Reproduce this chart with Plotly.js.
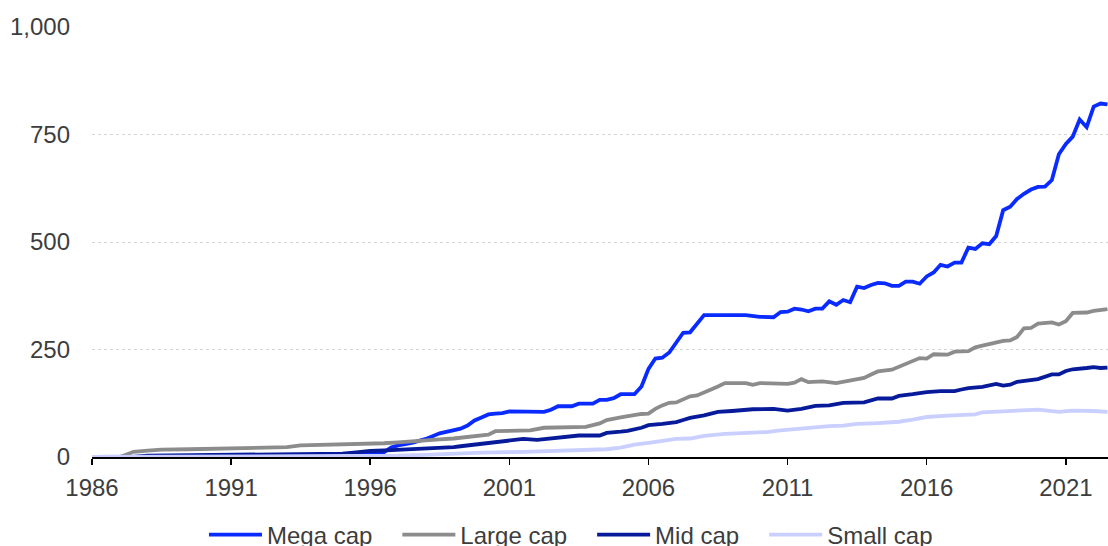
<!DOCTYPE html>
<html>
<head>
<meta charset="utf-8">
<script src="https://cdn.plot.ly/plotly-3.0.1.min.js"></script>
<style>
html,body{margin:0;padding:0;background:#fff;}
#chart{width:1108px;height:546px;}
</style>
</head>
<body>
<div id="chart"></div>
<script>
// ---- Data ----
var seriesNames = ['Mega cap', 'Large cap', 'Mid cap', 'Small cap'];

var megaDates = ['1986-01','1990-01','1993-01','1994-07','1995-07','1996-01','1996-07','1996-10','1997-01','1997-07',
  '1998-01','1998-07','1999-01','1999-04','1999-07','1999-10','2000-01','2000-04','2000-07','2000-10',
  '2001-01','2002-04','2002-07','2002-10','2003-04','2003-07','2004-01','2004-04','2004-07','2004-10',
  '2005-01','2005-07','2005-10','2006-01','2006-04','2006-07','2006-10','2007-01','2007-04','2007-07',
  '2007-10','2008-01','2009-07','2009-10','2010-01','2010-07','2010-10','2011-01','2011-04','2011-07',
  '2011-10','2012-01','2012-04','2012-07','2012-10','2013-01','2013-04','2013-07','2013-10','2014-01',
  '2014-04','2014-07','2014-10','2015-01','2015-04','2015-07','2015-10','2016-01','2016-04','2016-07',
  '2016-10','2017-01','2017-04','2017-07','2017-10','2018-01','2018-04','2018-07','2018-10','2019-01',
  '2019-04','2019-07','2019-10','2020-01','2020-04','2020-07','2020-10','2021-01','2021-04','2021-07',
  '2021-10','2022-01','2022-04','2022-07'];
var megaValues = [0,0,1,2,4,7,11,22,27,33,
  42,55,62,66,73,85,92,99,101,102,
  106,105,110,118,118,124,124,133,133,137,
  146,146,164,205,229,231,243,267,289,290,
  311,330,330,327,326,325,337,338,345,343,
  339,345,345,362,354,365,360,396,393,400,
  405,404,398,398,408,408,403,420,429,447,
  443,452,452,487,484,497,495,514,574,582,
  600,612,622,628,629,644,704,728,745,785,
  767,815,822,820];

var largeDates = ['1986-01','1987-01','1987-04','1987-07','1988-01','1988-07','1989-07','1990-07','1991-07','1992-07',
  '1993-01','1993-07','1994-07','1995-07','1996-01','1996-07','1997-01','1997-07','1998-01','1998-07',
  '1999-01','1999-07','2000-01','2000-04','2000-07','2001-07','2001-10','2002-04','2003-10','2004-04',
  '2004-07','2005-01','2005-04','2005-07','2005-10','2006-01','2006-04','2006-07','2006-10','2007-01',
  '2007-04','2007-07','2007-10','2008-01','2008-04','2008-07','2008-10','2009-07','2009-10','2010-01',
  '2010-07','2010-10','2011-01','2011-04','2011-07','2011-10','2012-04','2012-10','2013-01','2013-07',
  '2013-10','2014-01','2014-04','2014-10','2015-01','2015-04','2015-07','2015-10','2016-01','2016-04',
  '2016-10','2017-01','2017-07','2017-10','2018-01','2018-04','2018-07','2018-10','2019-01','2019-04',
  '2019-07','2019-10','2020-01','2020-07','2020-10','2021-01','2021-04','2021-10','2022-01','2022-07'];
var largeValues = [0,0,6,12,15,17,18,19,20,22,
  23,27,28,30,31,32,34,37,39,41,
  43,46,49,52,60,60,62,68,70,78,
  86,92,95,98,100,101,112,120,126,127,
  133,141,143,151,157,164,172,172,168,172,
  172,171,170,173,181,174,176,172,175,181,
  184,192,199,203,210,218,224,230,229,239,
  238,245,246,255,259,263,268,270,271,279,
  299,300,310,313,308,316,335,336,340,344];

var midDates = ['1986-01','1987-07','1988-01','1990-01','1992-01','1993-07','1994-07','1995-01','1995-07','1996-01',
  '1996-10','1997-07','1998-01','1998-07','1999-01','1999-04','1999-10','2000-04','2000-10','2001-04',
  '2001-07','2002-01','2002-07','2002-10','2003-07','2004-04','2004-07','2005-01','2005-04','2005-10',
  '2006-01','2006-07','2007-01','2007-04','2007-07','2008-01','2008-07','2009-01','2009-07','2009-10',
  '2010-07','2011-01','2011-07','2011-10','2012-01','2012-07','2012-10','2013-01','2013-10','2014-04',
  '2014-10','2015-01','2015-07','2016-01','2016-07','2017-01','2017-04','2017-07','2018-01','2018-07',
  '2018-10','2019-01','2019-04','2019-10','2020-01','2020-07','2020-10','2021-01','2021-04','2021-10',
  '2022-01','2022-04','2022-07'];
var midValues = [0,0,3,4,5,6,7,8,11,14,
  16,18,19,21,23,25,29,33,38,41,
  42,40,43,46,50,50,56,59,61,68,
  74,77,81,86,91,97,105,107,110,111,
  112,108,112,115,119,120,124,126,127,136,
  136,142,146,151,153,153,157,160,163,170,
  166,168,175,179,181,192,192,200,204,207,
  209,207,208];

var smallDates = ['1986-01','1995-01','1996-01','1997-01','1998-01','1999-01','2000-01','2001-07','2003-01','2004-01',
  '2004-07','2005-01','2005-07','2006-01','2006-07','2007-01','2007-07','2008-01','2008-10','2009-07',
  '2010-04','2010-10','2011-04','2012-01','2012-07','2013-01','2013-07','2014-04','2015-01','2015-07',
  '2016-01','2016-10','2017-07','2017-10','2018-01','2018-10','2019-07','2020-01','2020-10','2021-04',
  '2022-01','2022-07'];
var smallValues = [0,1,2,3,5,8,10,12,14,16,
  18,22,29,33,38,42,43,49,54,56,
  58,62,65,70,72,73,77,79,82,87,
  93,96,99,99,104,106,110,110,105,108,
  107,105];

var yTickValues = [0, 250, 500, 750, 1000];
var xTickYears = ['1986-01-01','1991-01-01','1996-01-01','2001-01-01','2006-01-01','2011-01-01','2016-01-01','2021-01-01'];

// ---- Styles ----
var colors = ['#0a2bff', '#8c8c8c', '#061a9a', '#c9cfff'];
var xs = [megaDates, largeDates, midDates, smallDates];
var ys = [megaValues, largeValues, midValues, smallValues];
var GAP = '\u00a0\u00a0\u00a0';

var traces = seriesNames.map(function(n, i){
  return {
    type: 'scatter', mode: 'lines', name: n + (i < seriesNames.length - 1 ? GAP : ''),
    x: xs[i], y: ys[i],
    line: {color: colors[i], width: 3.8},
    hoverinfo: 'skip'
  };
});

var FONT = 'Liberation Sans, Arial, sans-serif';
var layout = {
  width: 1108, height: 546,
  margin: {l: 92, r: 0, t: 27, b: 89, pad: 0, autoexpand: false},
  paper_bgcolor: '#fff', plot_bgcolor: '#fff',
  font: {family: FONT, size: 24, color: '#3d3d3d'},
  showlegend: true,
  legend: {orientation: 'h', x: 0.1102, xanchor: 'left', y: -0.129, yanchor: 'top',
           font: {family: FONT, size: 24, color: '#3d3d3d'}, itemwidth: 53, traceorder: 'normal'},
  xaxis: {
    type: 'date', range: ['1986-01-01', '2022-07-08'],
    tickvals: xTickYears, tickformat: '%Y',
    ticks: 'outside', ticklen: 6, tickwidth: 1.5, tickcolor: '#000',
    showline: true, linecolor: '#000', linewidth: 1.5, ticklabelstandoff: 3,
    showgrid: false, zeroline: false, fixedrange: true
  },
  yaxis: {
    range: [0, 1000], tickvals: yTickValues, tickformat: ',',
    showgrid: true, gridcolor: '#d4d4d4', gridwidth: 1, griddash: 'dot',
    zeroline: false, showline: false, ticks: '', ticklabelstandoff: 21, fixedrange: true
  }
};

Plotly.newPlot('chart', traces, layout, {staticPlot: true, displayModeBar: false});
</script>
</body>
</html>
